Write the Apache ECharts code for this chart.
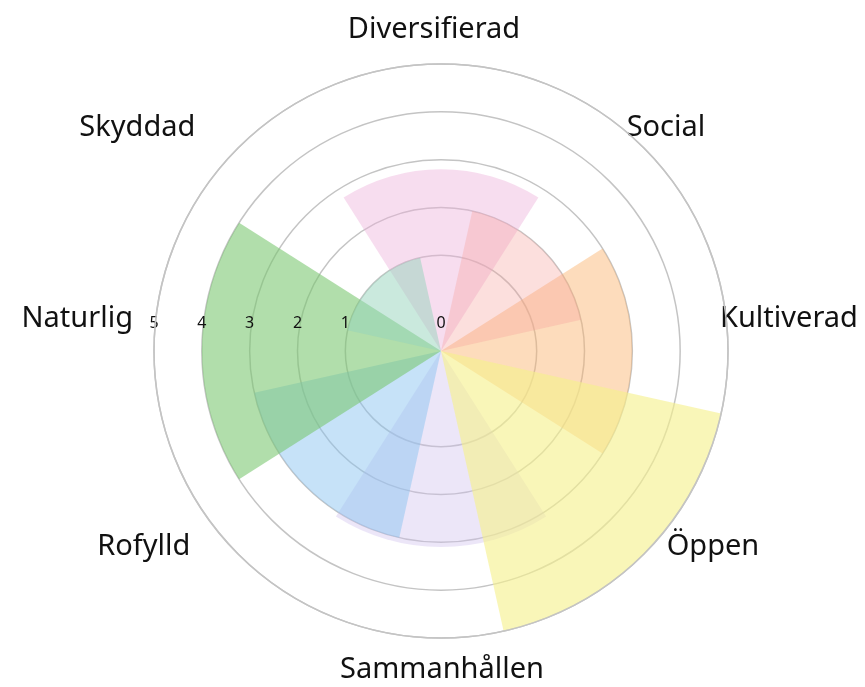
<!DOCTYPE html>
<html>
<head>
<meta charset="utf-8">
<script src="https://cdn.jsdelivr.net/npm/echarts@6/dist/echarts.min.js"></script>
<style>
  html, body { margin: 0; padding: 0; background: #fff; }
  #main { width: 865px; height: 687px; }
</style>
</head>
<body>
<div id="main"></div>
<script type="text/javascript">
    // kategorier medurs från toppen
    var categories = ['Diversifierad', 'Social', 'Kultiverad', 'Öppen', 'Sammanhållen', 'Rofylld', 'Naturlig', 'Skyddad'];
    var values = [2.8, 2, 3, 5, 3.1, 3, 4, 1];
    var radiusLabels = ['0', '1', '2', '3', '4', '5'];
    var colors = [
        'rgba(236, 175, 216, 0.42)',
        'rgba(245, 160, 155, 0.34)',
        'rgba(250, 178, 110, 0.46)',
        'rgba(246, 240, 140, 0.62)',
        'rgba(205, 190, 236, 0.38)',
        'rgba(135, 195, 240, 0.48)',
        'rgba(120, 198, 110, 0.58)',
        'rgba(150, 212, 188, 0.50)'
    ];
    // ritordning (högre = överst)
    var layer = [0, 1, 0, 3, 0, 1, 2, 2];
    // padding [top, right, bottom, left] per kategorietikett (flyttar texten utåt)
    var labelPadding = [
        [0, 14, 60, 0],
        [0, 0, 34, 11],
        [0, 0, 64, 32],
        [7, 0, 0, 51],
        [57, 0, 0, 2],
        [7, 76, 0, 0],
        [0, 61, 64, 0],
        [0, 71, 34, 0]
    ];

    // skalan: mitten = 0, sedan 1..5 (första ringen ligger en extra enhet ut)
    var offset = 1;
    // sektorerna är bredare än sin kategori och överlappar grannarna
    var spread = 1.44;

    var myChart = echarts.init(document.getElementById('main'));

    var ringColor = '#c4c4c4';

    var rich = {};
    labelPadding.forEach(function (pad, i) {
        rich['c' + i] = {
            fontSize: 29,
            fontFamily: 'Noto Sans',
            color: '#111',
            padding: pad
        };
    });

    var option = {
        backgroundColor: '#fff',
        polar: [
            { center: [441, 351], radius: 287 },
            { center: [441, 351], radius: 287 }
        ],
        angleAxis: [{
            polarIndex: 0,
            type: 'category',
            data: categories,
            startAngle: 112.5,
            clockwise: true,
            axisLine: {
                show: true,
                lineStyle: { color: ringColor, width: 1.5 }
            },
            axisTick: { show: false },
            splitLine: { show: false },
            axisLabel: {
                margin: -40,
                formatter: function (v, i) {
                    return '{c' + i + '|' + v + '}';
                },
                rich: rich
            },
            z: 30
        }, {
            // bara för att lägga skalans siffror åt vänster
            polarIndex: 1,
            type: 'value',
            startAngle: 180,
            show: false
        }],
        radiusAxis: [{
            polarIndex: 0,
            type: 'value',
            min: 0,
            max: 6,
            interval: 1,
            axisLine: { show: false },
            axisTick: { show: false },
            axisLabel: { show: false },
            splitLine: {
                show: true,
                lineStyle: {
                    color: ['rgba(0,0,0,0)', 'rgba(0,0,0,0)', ringColor, ringColor, ringColor, ringColor, ringColor],
                    width: 1.5
                }
            }
        }, {
            polarIndex: 1,
            type: 'value',
            min: 0,
            max: 6,
            interval: 1,
            axisLine: { show: false },
            axisTick: { show: false },
            splitLine: { show: false },
            axisLabel: {
                margin: -36,
                color: '#111',
                fontSize: 16,
                fontFamily: 'Noto Sans',
                formatter: function (v) {
                    if (v === 0) return radiusLabels[0];
                    if (v === 1) return '';
                    return radiusLabels[v - offset];
                }
            },
            z: 20
        }],
        series: [{
            type: 'custom',
            coordinateSystem: 'polar',
            polarIndex: 0,
            data: values.map(function (v, i) { return [v + offset, i]; }),
            renderItem: function (params, api) {
                var cs = params.coordSys;
                var p = api.coord([api.value(0), api.value(1)]);
                var half = api.size([0, 1])[1] * spread / 2;
                var a = p[3];
                return {
                    type: 'sector',
                    z2: layer[params.dataIndex],
                    shape: {
                        cx: cs.cx,
                        cy: cs.cy,
                        r0: 0,
                        r: p[2],
                        startAngle: -(a + half),
                        endAngle: -(a - half),
                        clockwise: true
                    },
                    style: { fill: colors[params.dataIndex] }
                };
            },
            z: 2
        }]
    };

    myChart.setOption(option);
</script>
</body>
</html>
